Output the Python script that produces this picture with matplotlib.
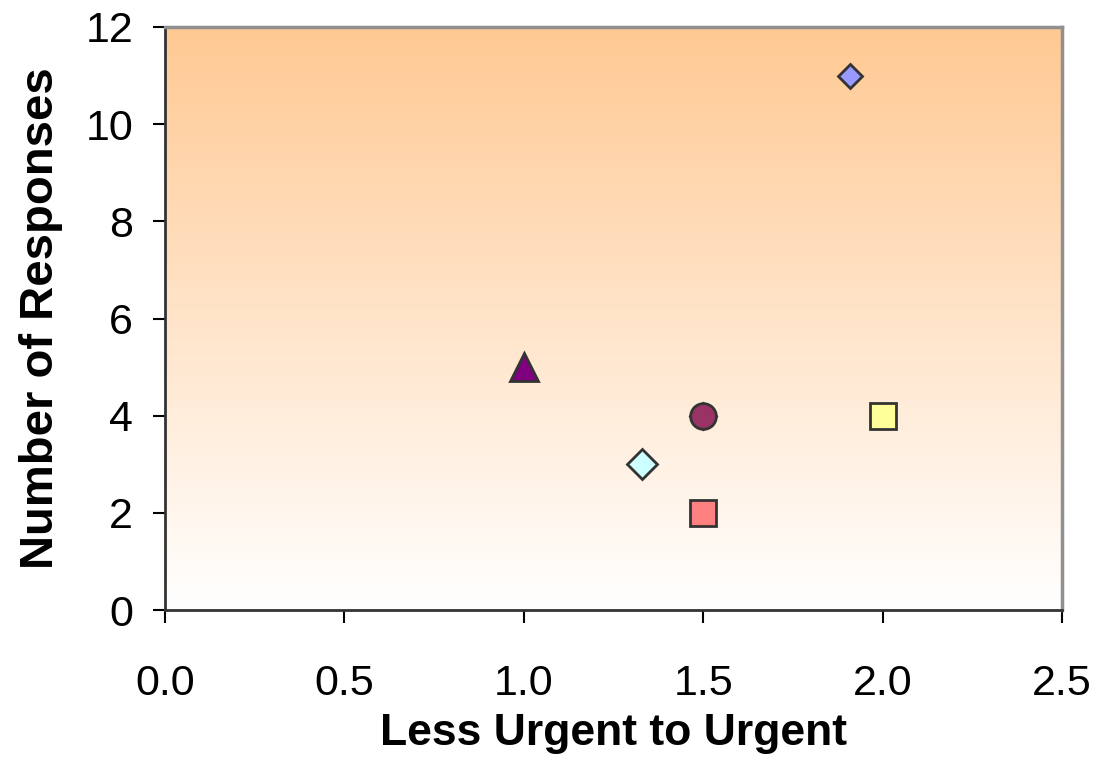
import numpy as np
import matplotlib
matplotlib.use("Agg")
import matplotlib.pyplot as plt
from matplotlib.colors import LinearSegmentedColormap

plt.rcParams['font.family'] = ['Liberation Sans', 'DejaVu Sans']

# Data points (x, y) per series
x_vals = [1.91, 1.0, 1.5, 1.5, 2.0, 1.33, 1.5]
y_vals = [11, 5, 4, 4, 4, 3, 2]
markers = ['D', '^', 'D', 'o', 's', 'D', 's']
colors = ['#9999FF', '#800080', '#333333', '#993366', '#FFFF99', '#CCFFFF', '#FF8080']
sizes = [12.5, 20, 13.5, 18.5, 18.5, 15.5, 18.5]

x_ticks = [0.0, 0.5, 1.0, 1.5, 2.0, 2.5]
y_ticks = [0, 2, 4, 6, 8, 10, 12]

fig = plt.figure(figsize=(10.99, 7.61), dpi=100)
ax = fig.add_axes([165/1099, 1-610/761, (1062-165)/1099, (610-27)/761])

cmap = LinearSegmentedColormap.from_list('bg', ['#FFFFFF', '#FFC993'])
grad = np.linspace(0, 1, 256).reshape(-1, 1)
ax.imshow(grad, aspect='auto', cmap=cmap, origin='lower',
          extent=[0, 2.5, 0, 12], zorder=0)

for x, y, m, c, s in zip(x_vals, y_vals, markers, colors, sizes):
    ax.plot(x, y, marker=m, color=c, markersize=s, markeredgecolor='#333333',
            markeredgewidth=2.0, linestyle='none', zorder=3, clip_on=False)

ax.set_xlim(0, 2.5)
ax.set_ylim(0, 12)
ax.set_xticks(x_ticks)
ax.set_xticklabels([f"{v:.1f}" for v in x_ticks])
ax.set_yticks(y_ticks)
ax.tick_params(axis='both', direction='out', length=9, width=1.5, labelsize=31,
               color='black')
ax.tick_params(axis='x', pad=30)
ax.tick_params(axis='y', pad=14)

for side in ['top', 'right']:
    ax.spines[side].set_color('#909090')
    ax.spines[side].set_linewidth(2.5)
for side in ['left', 'bottom']:
    ax.spines[side].set_color('#333333')
    ax.spines[side].set_linewidth(2.0)

ax.set_xlabel('Less Urgent to Urgent', fontsize=32, fontweight='bold', labelpad=6)
ax.set_ylabel('Number of Responses', fontsize=34, fontweight='bold', labelpad=16)

fig.savefig('out.png', dpi=100)
